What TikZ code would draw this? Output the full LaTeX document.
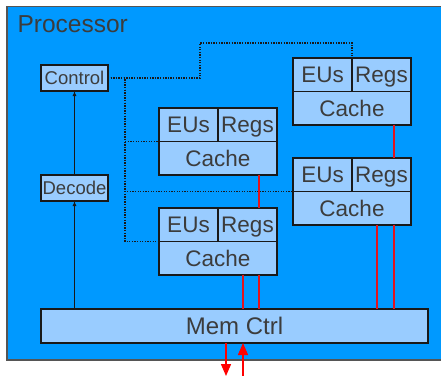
\documentclass[tikz,border=0pt]{standalone}
\usepackage{fontspec}
\setmainfont{Liberation Sans}
\definecolor{procblue}{RGB}{0,153,255}
\definecolor{unitblue}{RGB}{153,204,255}
\definecolor{labelgray}{RGB}{60,60,60}
\definecolor{edgegray}{RGB}{85,85,85}
\definecolor{busred}{RGB}{225,20,30}
\usetikzlibrary{arrows.meta,positioning,calc}

\tikzset{
  unit/.style={draw=black!90, fill=unitblue, line width=1.2pt, inner sep=0pt, outer sep=0pt,
    text depth=0pt,
    minimum width=59pt, minimum height=33.5pt, text=labelgray, font=\fontsize{22.5}{26}\selectfont},
  smallunit/.style={unit, minimum width=67pt, minimum height=26pt, font=\fontsize{18.5}{21}\selectfont},
  ctrlline/.style={line width=1.2pt, black!90, dash pattern=on 1.3pt off 1.3pt},
  busline/.style={line width=1.1pt, busred},
  ioarrow/.style={line width=1.4pt, red, -{Triangle[width=10pt,length=12pt]}},
  flowarrow/.style={line width=1.2pt, black!90, -{Latex[width=4pt,length=5pt]}}
}

\begin{document}
\begin{tikzpicture}[x=1pt, y=-1pt]
  \useasboundingbox (0,0) rectangle (441,375);
  \begin{scope}
    \clip (0,0) rectangle (441,375);
    \draw[edgegray, fill=procblue, line width=1.3pt] (7,6.5) rectangle (445,360);
  \end{scope}
  \node[anchor=base west, text=labelgray, font=\fontsize{24.5}{29}\selectfont] (proc) at (14,32) {Processor};

  % front end
  \node[smallunit, anchor=north west] (control) at (41,65) {Control};
  \node[smallunit, anchor=north west] (decode) at (41,175) {Decode};
  \node[unit, minimum width=387pt, minimum height=34pt, font=\fontsize{24}{28}\selectfont, anchor=north west] (mem) at (41,309) {Mem Ctrl};

  % cores
  \foreach \n/\px/\py in {a/293/58, b/159/108, c/293/158, d/159/208}{
    \node[unit, anchor=north west] (\n-eu) at (\px,\py) {EUs};
    \node[unit, anchor=west] (\n-regs) at (\n-eu.east) {Regs};
    \node[unit, minimum width=118pt, anchor=north] (\n-cache) at (\n-eu.south east) {Cache};
  }

  % memory paths
  \draw[busline] ([xshift=42pt]a-cache.south) -- ([xshift=42pt]a-cache.south |- c-eu.north);
  \draw[busline] ([xshift=42pt]c-cache.south) -- ([xshift=42pt]c-cache.south |- mem.north);
  \draw[busline] ([xshift=25pt]c-cache.south) -- ([xshift=25pt]c-cache.south |- mem.north);
  \draw[busline] ([xshift=41pt]b-cache.south) -- ([xshift=41pt]b-cache.south |- d-eu.north);
  \draw[busline] ([xshift=41pt]d-cache.south) -- ([xshift=41pt]d-cache.south |- mem.north);
  \draw[busline] ([xshift=25pt]d-cache.south) -- ([xshift=25pt]d-cache.south |- mem.north);

  % control signals
  \draw[ctrlline] (control.east) -- ++(92,0) |- ([yshift=15pt]a-eu.north east) -- (a-eu.north east);
  \draw[ctrlline] (control.east) -- ++(17,0) |- (b-eu.south west);
  \draw[ctrlline] (control.east) -- ++(17,0) |- (c-eu.south west);
  \draw[ctrlline] (control.east) -- ++(17,0) |- (d-eu.south west);

  % instruction flow
  \draw[flowarrow] (mem.north -| decode.south) -- (decode.south);
  \draw[flowarrow] (decode.north) -- (control.south);

  % off-chip
  \coordinate (memout) at (226,376);
  \coordinate (memin) at (243,376);
  \draw[ioarrow] (mem.south -| memout) -- (memout);
  \draw[ioarrow] (memin) -- (mem.south -| memin);
\end{tikzpicture}
\end{document}
